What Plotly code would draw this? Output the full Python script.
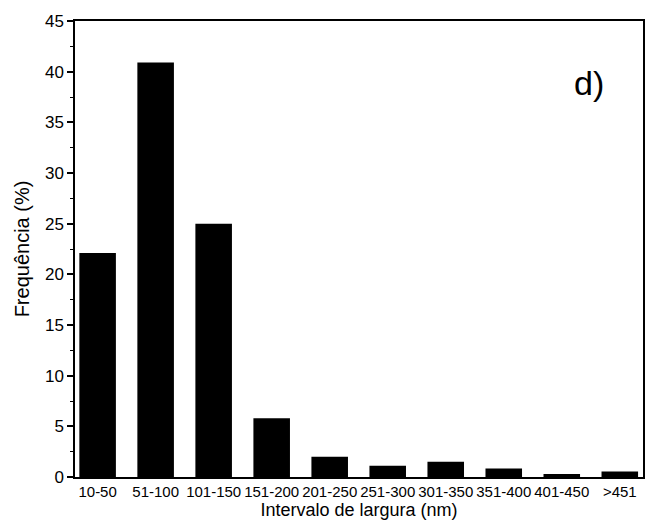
import plotly.graph_objects as go

categories = ["10-50", "51-100", "101-150", "151-200", "201-250",
              "251-300", "301-350", "351-400", "401-450", ">451"]
frequency = [22.1, 40.9, 25.0, 5.8, 2.0, 1.1, 1.5, 0.85, 0.3, 0.55]
y_ticks = [0, 5, 10, 15, 20, 25, 30, 35, 40, 45]

fig = go.Figure()
fig.add_trace(go.Bar(
    x=categories, y=frequency,
    marker=dict(color="black", line=dict(width=0)),
    width=0.63,
))

font_family = "Liberation Sans, Arial, sans-serif"
fig.update_layout(
    width=657, height=528,
    margin=dict(l=75, r=12, t=19, b=51),
    plot_bgcolor="white", paper_bgcolor="white",
    showlegend=False,
    font=dict(family=font_family, color="black"),
    xaxis=dict(
        type="category",
        range=[-0.39, 9.4],
        showline=True, linecolor="black", linewidth=1.5, mirror=True,
        ticks="", showgrid=False, zeroline=False,
        tickfont=dict(size=15, family=font_family),
        title=dict(text="Intervalo de largura (nm)", font=dict(size=18, family=font_family), standoff=2),
    ),
    yaxis=dict(
        range=[0, 45],
        tickvals=y_ticks,
        showline=True, linecolor="black", linewidth=1.5, mirror=True,
        ticks="outside", ticklen=6, tickwidth=1.5, tickcolor="black",
        minor=dict(dtick=2.5, ticks="outside", ticklen=3, tickwidth=1.2, tickcolor="black", showgrid=False),
        showgrid=False, zeroline=False,
        tickfont=dict(size=17, family=font_family),
        title=dict(text="Frequência (%)", font=dict(size=20, family=font_family), standoff=10),
    ),
    annotations=[dict(
        text="d)", xref="paper", yref="paper", x=0.935, y=0.91,
        showarrow=False, font=dict(size=34, family=font_family, color="black"),
    )],
)

fig.write_html("out.html")
